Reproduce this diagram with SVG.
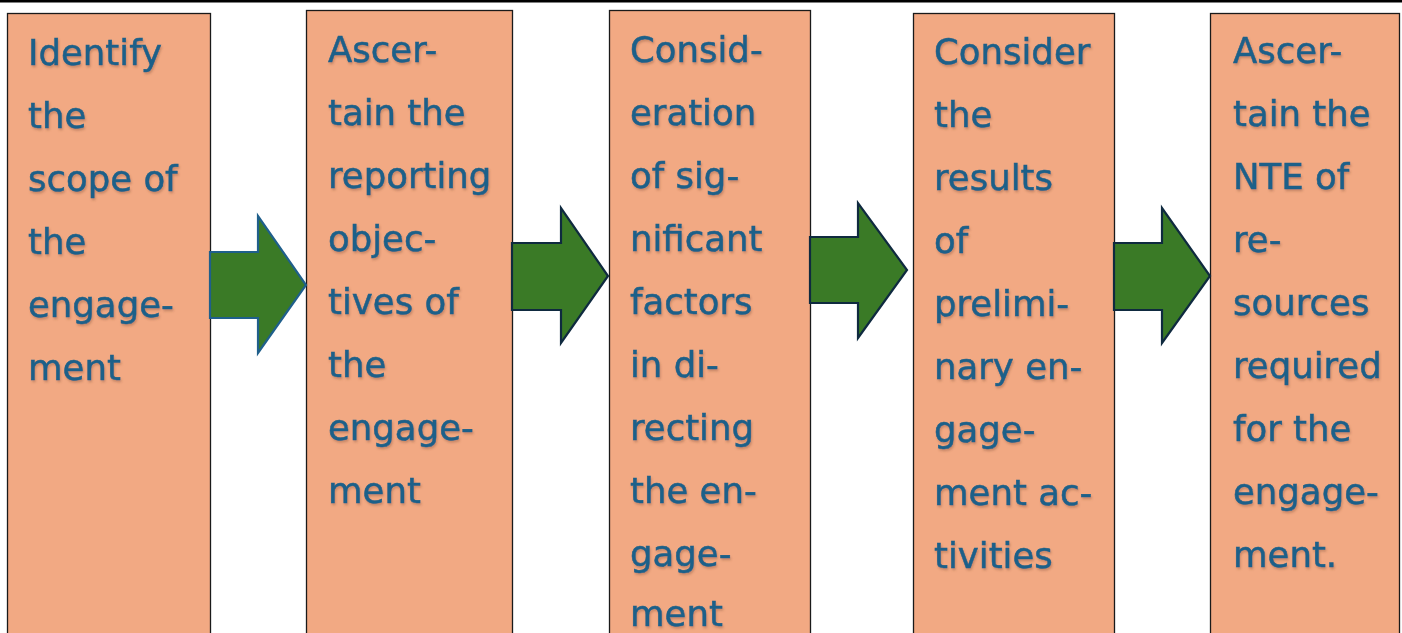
<svg xmlns="http://www.w3.org/2000/svg" width="1402" height="633" viewBox="0 0 1402 633">
<style>
.box{fill:#F2A983;stroke:#1a1a1a;stroke-width:1.3}
.t{font-family:"DejaVu Sans","Liberation Sans",sans-serif;font-size:35.5px;fill:#1B6089;stroke:#1B6089;stroke-width:0.5;filter:url(#sh)}
.arr{fill:#3A7A26;stroke:#0F2A3F;stroke-width:2.2;stroke-linejoin:miter}
</style>
<defs>
<filter id="sh" x="-10%" y="-20%" width="130%" height="150%">
<feDropShadow dx="1" dy="2" stdDeviation="1.2" flood-color="#7a4a30" flood-opacity="0.35"/>
</filter>
</defs>
<rect x="0" y="0" width="1402" height="633" fill="#ffffff"/>
<rect x="0" y="0" width="1402" height="2.5" fill="#000000"/>
<g id="node1">
<rect class="box" x="7.5" y="13.5" width="203" height="630"/>
<text class="t"><tspan x="28" y="65">Identify</tspan><tspan x="28" y="128">the</tspan><tspan x="28" y="191">scope of</tspan><tspan x="28" y="254">the</tspan><tspan x="28" y="317">engage-</tspan><tspan x="28" y="380">ment</tspan></text>
</g>
<g id="node2">
<rect class="box" x="306.5" y="10.5" width="206" height="630"/>
<text class="t"><tspan x="328" y="62">Ascer-</tspan><tspan x="328" y="125">tain the</tspan><tspan x="328" y="188">reporting</tspan><tspan x="328" y="251">objec-</tspan><tspan x="328" y="314">tives of</tspan><tspan x="328" y="377">the</tspan><tspan x="328" y="440">engage-</tspan><tspan x="328" y="503">ment</tspan></text>
</g>
<g id="node3">
<rect class="box" x="609.5" y="10.5" width="201" height="630"/>
<text class="t"><tspan x="630" y="62">Consid-</tspan><tspan x="630" y="125">eration</tspan><tspan x="630" y="188">of sig-</tspan><tspan x="630" y="251">nificant</tspan><tspan x="630" y="314">factors</tspan><tspan x="630" y="377">in di-</tspan><tspan x="630" y="440">recting</tspan><tspan x="630" y="503">the en-</tspan><tspan x="630" y="566">gage-</tspan><tspan x="630" y="626">ment</tspan></text>
</g>
<g id="node4">
<rect class="box" x="913.5" y="13.5" width="201" height="630"/>
<text class="t"><tspan x="934" y="64">Consider</tspan><tspan x="934" y="127">the</tspan><tspan x="934" y="190">results</tspan><tspan x="934" y="253">of</tspan><tspan x="934" y="316">prelimi-</tspan><tspan x="934" y="379">nary en-</tspan><tspan x="934" y="442">gage-</tspan><tspan x="934" y="505">ment ac-</tspan><tspan x="934" y="568">tivities</tspan></text>
</g>
<g id="node5">
<rect class="box" x="1210.5" y="13.5" width="189" height="630"/>
<text class="t"><tspan x="1233" y="63">Ascer-</tspan><tspan x="1233" y="126">tain the</tspan><tspan x="1233" y="189">NTE of</tspan><tspan x="1233" y="252">re-</tspan><tspan x="1233" y="315">sources</tspan><tspan x="1233" y="378">required</tspan><tspan x="1233" y="441">for the</tspan><tspan x="1233" y="504">engage-</tspan><tspan x="1233" y="567">ment.</tspan></text>
</g>
<g id="connectors">
<polygon class="arr" style="stroke:#1F5F8B" points="210,252 258,252 258,216 306,285 258,353 258,318 210,318"/>
<polygon class="arr" points="512,243 561,243 561,208 608,276 561,343 561,310 512,310"/>
<polygon class="arr" points="810,237 858,237 858,203 907,270 858,338 858,303 810,303"/>
<polygon class="arr" points="1114,243 1162,243 1162,208 1210,276 1162,343 1162,310 1114,310"/>
</g>
</svg>
